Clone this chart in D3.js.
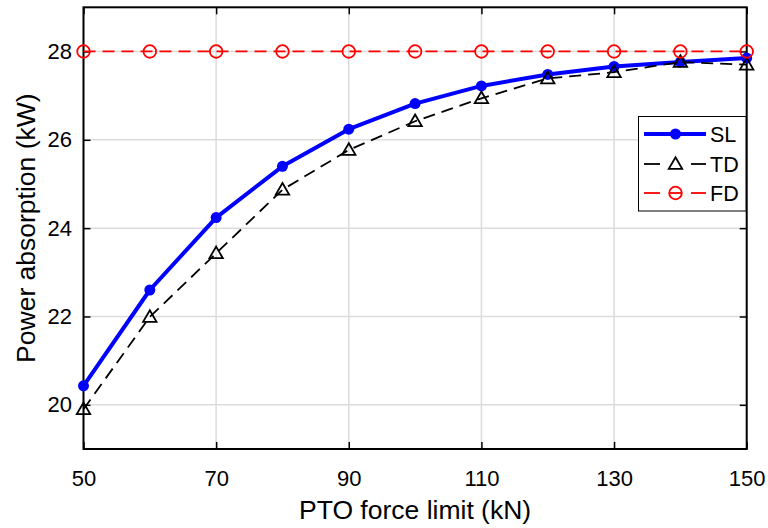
<!DOCTYPE html>
<html><head><meta charset="utf-8">
<script src="https://cdn.jsdelivr.net/npm/d3@7"></script>
<style>body{margin:0;background:#fff}svg{display:block}text{font-family:"Liberation Sans",Arial,sans-serif;fill:#000}</style>
</head><body><svg id="c" width="768" height="528"></svg>
<script>
const forceLimit = [50, 60, 70, 80, 90, 100, 110, 120, 130, 140, 150];
const slValues = [20.43, 22.60, 24.24, 25.40, 26.24, 26.82, 27.22, 27.48, 27.66, 27.76, 27.85];
const tdValues = [19.90, 21.99, 23.43, 24.87, 25.77, 26.42, 26.94, 27.39, 27.53, 27.76, 27.70];
const fdValues = [28, 28, 28, 28, 28, 28, 28, 28, 28, 28, 28];
const xTicks = [50, 70, 90, 110, 130, 150];
const yTicks = [20, 22, 24, 26, 28];
const seriesNames = ["SL", "TD", "FD"];

const svg = d3.select("#c");
const L = 83.5, R = 746.7, T = 7.3, B = 449;
const x = d3.scaleLinear().domain([50, 150]).range([L, R]);
const y = d3.scaleLinear().domain([19, 29]).range([B, T]);

// grid
const g = svg.append("g");
g.selectAll("line.vg").data(xTicks).join("line")
  .attr("x1", d => x(d)).attr("x2", d => x(d)).attr("y1", T).attr("y2", B)
  .attr("stroke", "#dcdcdc").attr("stroke-width", 1.5);
g.selectAll("line.hg").data(yTicks).join("line")
  .attr("y1", d => y(d)).attr("y2", d => y(d)).attr("x1", L).attr("x2", R)
  .attr("stroke", "#dcdcdc").attr("stroke-width", 1.5);

// axes with inward ticks
const ax = svg.append("g");
const tl = 7;
ax.append("g").attr("transform", `translate(0,${B})`)
  .call(d3.axisBottom(x).tickValues(xTicks).tickSizeInner(-tl).tickSizeOuter(0).tickPadding(21))
  .call(s => s.select(".domain").remove());
ax.append("g").attr("transform", `translate(0,${T})`)
  .call(d3.axisTop(x).tickValues(xTicks).tickSizeInner(-tl).tickSizeOuter(0).tickFormat(""))
  .call(s => s.select(".domain").remove());
ax.append("g").attr("transform", `translate(${L},0)`)
  .call(d3.axisLeft(y).tickValues(yTicks).tickSizeInner(-tl).tickSizeOuter(0).tickPadding(11.5))
  .call(s => s.select(".domain").remove());
ax.append("g").attr("transform", `translate(${R},0)`)
  .call(d3.axisRight(y).tickValues(yTicks).tickSizeInner(-tl).tickSizeOuter(0).tickFormat(""))
  .call(s => s.select(".domain").remove());
ax.selectAll(".tick line").attr("stroke", "#000").attr("stroke-width", 1.5);
ax.selectAll(".tick text").attr("font-size", 22).attr("font-family", "Liberation Sans, Arial, sans-serif").attr("fill", "#000");
svg.append("rect").attr("x", L).attr("y", T).attr("width", R - L).attr("height", B - T)
  .attr("fill", "none").attr("stroke", "#000").attr("stroke-width", 2);

// series
const line = d3.line().x(d => x(d[0])).y(d => y(d[1]));
const sl = forceLimit.map((f, i) => [f, slValues[i]]);
const td = forceLimit.map((f, i) => [f, tdValues[i]]);
const fd = forceLimit.map((f, i) => [f, fdValues[i]]);

svg.append("path").datum(sl).attr("d", line).attr("fill", "none").attr("stroke", "#0000ff").attr("stroke-width", 4).attr("stroke-linejoin", "round");
svg.selectAll("circle.sl").data(sl).join("circle").attr("cx", d => x(d[0])).attr("cy", d => y(d[1])).attr("r", 5.5).attr("fill", "#0000ff");

const tri = d3.symbol().type(d3.symbolTriangle).size(78);
svg.append("path").datum(td).attr("d", line).attr("fill", "none").attr("stroke", "#000").attr("stroke-width", 1.8).attr("stroke-dasharray", "12,7");
svg.selectAll("path.td").data(td).join("path").attr("transform", d => `translate(${x(d[0])},${y(d[1]) + 1})`)
  .attr("d", tri).attr("fill", "none").attr("stroke", "#000").attr("stroke-width", 1.8);

svg.append("path").datum(fd).attr("d", line).attr("fill", "none").attr("stroke", "#ff0000").attr("stroke-width", 1.8).attr("stroke-dasharray", "12,7");
svg.selectAll("circle.fd").data(fd).join("circle").attr("cx", d => x(d[0])).attr("cy", d => y(d[1])).attr("r", 6.3).attr("fill", "none").attr("stroke", "#ff0000").attr("stroke-width", 1.8);

// labels
svg.append("text").attr("x", (L + R) / 2).attr("y", 519).attr("text-anchor", "middle").attr("font-size", 26.5).text("PTO force limit (kN)");
svg.append("text").attr("transform", `translate(35,${(T + B) / 2}) rotate(-90)`).attr("text-anchor", "middle").attr("font-size", 26.5).text("Power absorption (kW)");

// legend
const lg = svg.append("g");
lg.append("rect").attr("x", 638.5).attr("y", 116.5).attr("width", 107.5).attr("height", 94.5).attr("fill", "#fff").attr("stroke", "#000").attr("stroke-width", 1);
const ly = [134, 164, 193];
const x0 = 644, x1 = 706, xm = 675.5;
// SL
lg.append("line").attr("x1", x0).attr("x2", x1).attr("y1", ly[0]).attr("y2", ly[0]).attr("stroke", "#0000ff").attr("stroke-width", 4);
lg.append("circle").attr("cx", xm).attr("cy", ly[0]).attr("r", 5.5).attr("fill", "#0000ff");
// TD
[[x0, 660], [691, x1]].forEach(s => lg.append("line").attr("x1", s[0]).attr("x2", s[1]).attr("y1", ly[1]).attr("y2", ly[1]).attr("stroke", "#000").attr("stroke-width", 1.8));
lg.append("path").attr("transform", `translate(${xm},${ly[1] + 1})`).attr("d", tri).attr("fill", "none").attr("stroke", "#000").attr("stroke-width", 1.8);
// FD
[[x0, 660], [691, x1]].forEach(s => lg.append("line").attr("x1", s[0]).attr("x2", s[1]).attr("y1", ly[2]).attr("y2", ly[2]).attr("stroke", "#ff0000").attr("stroke-width", 1.8));
lg.append("line").attr("x1", 669).attr("x2", 682).attr("y1", ly[2]).attr("y2", ly[2]).attr("stroke", "#ff0000").attr("stroke-width", 1.8);
lg.append("circle").attr("cx", xm).attr("cy", ly[2]).attr("r", 6.3).attr("fill", "none").attr("stroke", "#ff0000").attr("stroke-width", 1.8);
lg.selectAll("text.lt").data(seriesNames).join("text").attr("x", 710).attr("y", (d, i) => ly[i] + 8).attr("font-size", 21.5).text(d => d);
</script></body></html>
